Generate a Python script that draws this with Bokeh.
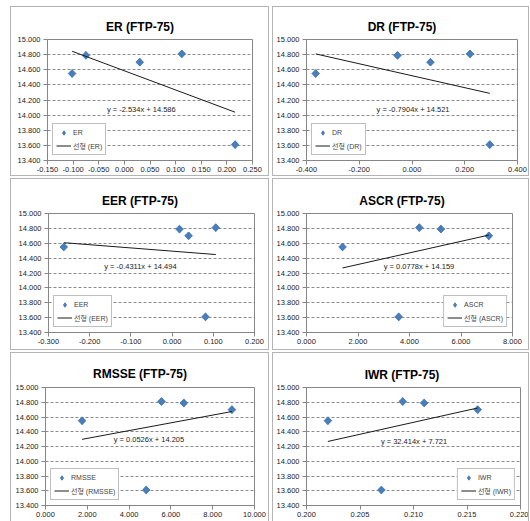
from bokeh.plotting import figure
from bokeh.models import Range1d, FixedTicker, NumeralTickFormatter, Label, Legend, LegendItem, Spacer
from bokeh.layouts import row, column
from bokeh.embed import file_html
from bokeh.resources import INLINE

# ---------------- data ----------------
names = ["ER", "DR", "EER", "ASCR", "RMSSE", "IWR"]
y_vals = [14.55, 14.79, 14.70, 14.81, 13.61]
er_x = [-0.102, -0.075, 0.030, 0.112, 0.216]
dr_x = [-0.365, -0.055, 0.070, 0.220, 0.295]
eer_x = [-0.263, 0.018, 0.040, 0.106, 0.081]
ascr_x = [1.40, 5.22, 7.08, 4.38, 3.58]
rmsse_x = [1.75, 6.62, 8.92, 5.55, 4.82]
iwr_x = [0.202, 0.211, 0.216, 0.209, 0.207]
slopes = [-2.534, -0.7904, -0.4311, 0.0778, 0.0526, 32.414]
intercepts = [14.586, 14.521, 14.494, 14.159, 14.205, 7.721]
eq_texts = ["y = -2.534x + 14.586", "y = -0.7904x + 14.521", "y = -0.4311x + 14.494",
            "y = 0.0778x + 14.159", "y = 0.0526x + 14.205", "y = 32.414x + 7.721"]
y_ticks = [13.4, 13.6, 13.8, 14.0, 14.2, 14.4, 14.6, 14.8, 15.0]
er_ticks = [-0.15, -0.10, -0.05, 0.0, 0.05, 0.10, 0.15, 0.20, 0.25]
dr_ticks = [-0.4, -0.2, 0.0, 0.2, 0.4]
eer_ticks = [-0.3, -0.2, -0.1, 0.0, 0.1, 0.2]
ascr_ticks = [0, 2, 4, 6, 8]
rmsse_ticks = [0, 2, 4, 6, 8, 10]
iwr_ticks = [0.200, 0.205, 0.210, 0.215, 0.220]

xs = [er_x, dr_x, eer_x, ascr_x, rmsse_x, iwr_x]
xticks = [er_ticks, dr_ticks, eer_ticks, ascr_ticks, rmsse_ticks, iwr_ticks]

# ---------------- layout / style ----------------
FONT = "Liberation Sans, Noto Sans CJK KR, sans-serif"
BLUE = "#4A7EBB"
AXIS = "#868686"
PANEL_BORDER = "1px solid #b4b4b4"

# figure (outer) width, outer height, min borders left/right/top/bottom (canvas relative)
geom = [
    (259, 170, 36, 18, 32, 17),
    (257, 170, 32, 13, 32, 17),
    (259, 172, 37, 16, 34, 18),
    (257, 172, 32, 18, 33, 19),
    (259, 169, 34, 16, 34, 17),
    (257, 169, 32, 10, 32, 17),
]
title_standoff = [12, 12, 12, 12, 13, 12]
eq_pos = [(0.033, 14.07), (0.004, 14.07), (-0.077, 14.285),
          (4.37, 14.29), (4.95, 14.293), (0.21005, 14.274)]
legend_loc = ["bottom_left", "bottom_left", "bottom_left", "bottom_right", "bottom_left", "bottom_right"]

# Arial/Liberation Sans Bold advance widths (per 1000 em) for centering the titles on the panel
BOLD_W = {'E': 667, 'R': 722, ' ': 278, '(': 333, 'F': 611, 'T': 611, 'P': 667, '-': 333,
          '7': 556, '5': 556, ')': 333, 'D': 722, 'A': 722, 'S': 667, 'C': 722, 'M': 833,
          'I': 278, 'W': 944}
TITLE_SIZE = 12

figs = []
for i, name in enumerate(names):
    W, H, L, R, T, B = geom[i]
    bottom_row = i >= 4
    cw = W - 2
    xt = xticks[i]
    style = {"border": PANEL_BORDER}
    if bottom_row:
        style["border-bottom"] = "none"
    p = figure(width=W, height=H, output_backend="svg", toolbar_location=None,
               x_range=Range1d(xt[0], xt[-1]), y_range=Range1d(y_ticks[0], y_ticks[-1]),
               min_border_left=L, min_border_right=R, min_border_top=T, min_border_bottom=B,
               background_fill_color="white", border_fill_color="white", styles=style)
    title = f"{name} (FTP-75)"
    tw = sum(BOLD_W.get(c, 600) for c in title) / 1000 * TITLE_SIZE
    p.title.text = title
    p.title.align = "left"
    p.title.offset = (cw / 2 - L) - tw / 2
    p.title.text_font = FONT
    p.title.text_font_size = f"{TITLE_SIZE}px"
    p.title.text_font_style = "bold"
    p.title.text_color = "#000000"
    p.title.standoff = title_standoff[i]

    p.outline_line_color = AXIS
    p.xgrid.visible = False
    p.ygrid.grid_line_color = "#8c8c8c"
    p.ygrid.grid_line_dash = "3 2"
    p.ygrid.grid_line_width = 1
    p.yaxis.ticker = FixedTicker(ticks=y_ticks)
    p.xaxis.ticker = FixedTicker(ticks=xt)
    p.xaxis.formatter = NumeralTickFormatter(format="0.000")
    p.yaxis.formatter = NumeralTickFormatter(format="0.000")
    for ax in (p.xaxis[0], p.yaxis[0]):
        ax.axis_line_color = AXIS
        ax.major_tick_line_color = AXIS
        ax.minor_tick_line_color = None
        ax.major_tick_in = 0
        ax.major_tick_out = 4
        ax.major_label_text_font = FONT
        ax.major_label_text_font_size = "7.5px"
        ax.major_label_text_color = "#222222"
    p.xaxis.major_label_standoff = 2
    p.yaxis.major_label_standoff = 3

    x = xs[i]
    # diamond renderer (used as legend swatch), covered by the rotated square markers
    dm = p.scatter(x, y_vals, marker="diamond", size=7.5, fill_color=BLUE, line_color=BLUE)
    p.scatter(x, y_vals, marker="square", angle=0.785398, size=5.4,
              fill_color=BLUE, line_color=BLUE)
    x0, x1 = min(x), max(x)
    ln = p.line([x0, x1], [slopes[i] * x0 + intercepts[i], slopes[i] * x1 + intercepts[i]],
                line_color="#1a1a1a", line_width=1)

    p.add_layout(Label(x=eq_pos[i][0], y=eq_pos[i][1], text=eq_texts[i], text_align="center",
                       text_baseline="middle", text_font=FONT, text_font_size="7.5px",
                       text_color="#222222"))

    leg = Legend(items=[LegendItem(label=name, renderers=[dm]),
                        LegendItem(label=f"선형 ({name})", renderers=[ln])],
                 location=legend_loc[i], margin=5, padding=3, spacing=2,
                 glyph_width=15, glyph_height=11, label_height=11, label_standoff=2,
                 label_text_font=FONT, label_text_font_size="7px",
                 border_line_color="#7f7f7f", border_line_width=1,
                 background_fill_color="white", background_fill_alpha=1.0)
    p.add_layout(leg)
    figs.append(p)

layout = column(
    Spacer(height=4),
    row(Spacer(width=10), figs[0], Spacer(width=3), figs[1]),
    row(Spacer(width=10), figs[2], Spacer(width=3), figs[3]),
    row(Spacer(width=10), figs[4], Spacer(width=3), figs[5]),
    spacing=2,
)

open("out.html", "w").write(file_html(layout, INLINE))
